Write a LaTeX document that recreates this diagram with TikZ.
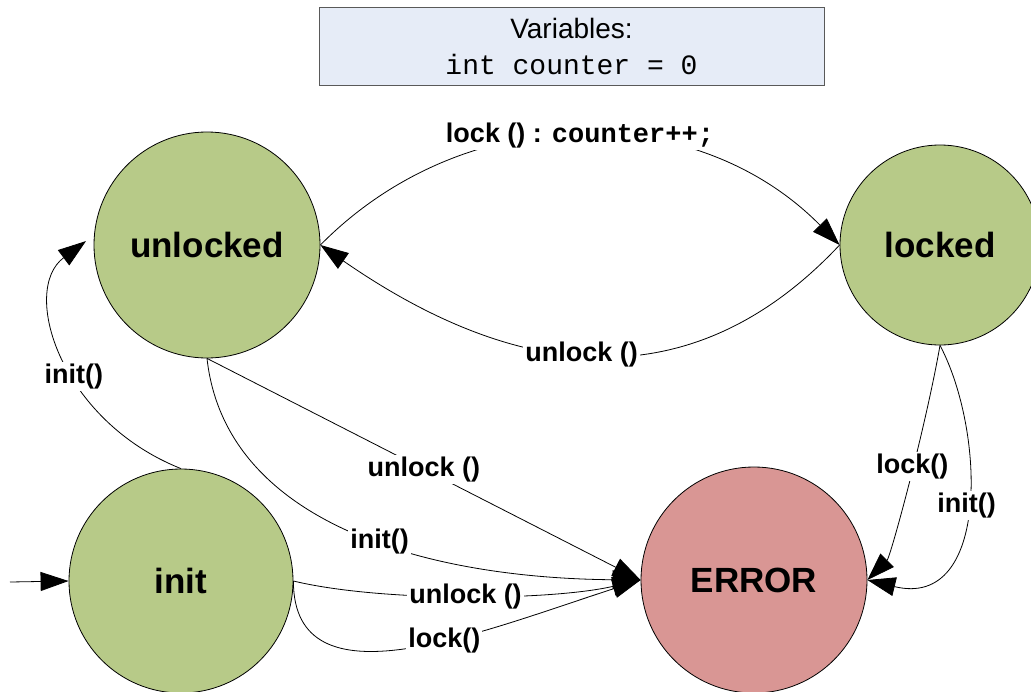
\documentclass[tikz,border=0pt]{standalone}
\usepackage{fontspec}
\setmainfont{Liberation Sans}
\setmonofont{Liberation Mono}
\usetikzlibrary{arrows.meta}
\definecolor{stategreen}{HTML}{B7CA88}
\definecolor{errorred}{HTML}{D99694}
\definecolor{varfill}{HTML}{E6ECF7}
\definecolor{varline}{HTML}{595959}
\begin{document}
\begin{tikzpicture}[x=1pt,y=-1pt,
  state/.style={circle, draw=black, line width=0.8pt, fill=stategreen, inner sep=0pt,
    font=\bfseries\fontsize{35}{40}\selectfont},
  trans/.style={draw=black, line width=0.8pt, -{Triangle[length=28pt,width=19pt]}},
  lbl/.style={fill=white, inner sep=2pt, font=\bfseries\fontsize{27}{30}\selectfont},
  varbox/.style={draw=varline, fill=varfill, line width=0.8pt, minimum width=505pt,
    minimum height=78pt, align=center, inner sep=0pt, font=\fontsize{28}{36}\selectfont},
]
\useasboundingbox (0,0) rectangle (1031,691);

% variables box
\node[varbox] (vars) at (571.5,46) {Variables:\\{\ttfamily int counter = 0}};

% states
\node[state, minimum size=226pt] (unlocked) at (207,245) {unlocked};
\node[state, minimum size=200pt] (locked) at (940,245) {locked};
\node[state, minimum size=224pt] (init) at (181,581) {init};
\node[state, fill=errorred, minimum size=226pt] (ERROR) at (754,580) {ERROR};

% entry arrow
\coordinate (entry) at (10,582);
\draw[trans] (entry) -- (init.west);

% transitions between unlocked and locked
\draw[trans] (unlocked.east) .. controls +(144,-146) and +(-144,-146) .. (locked.west)
  node[lbl,pos=0.5] {lock () : \texttt{counter++;}};
\draw[trans] (locked.west) .. controls +(-138,147) and +(212,147) .. (unlocked.east)
  node[lbl,pos=0.55] {unlock ()};

% transitions into ERROR
\draw[trans] (unlocked.south) -- (ERROR.west) node[lbl,pos=0.5] {unlock ()};
\draw[trans] (unlocked.south) .. controls +(18,162) and +(-221,-2) .. (ERROR.west)
  node[lbl,pos=0.565] {init()};
\draw[trans] (init.east) .. controls +(87,21) and +(-91,21) .. (ERROR.west)
  node[lbl,pos=0.5] {unlock ()};
\draw[trans] (init.east) .. controls +(0,128) and +(-161,52) .. (ERROR.west)
  node[lbl,pos=0.59] {lock()};
\draw[trans] (locked.south) .. controls +(-15,85) and +(23,-23) .. (ERROR.east)
  node[lbl,pos=0.43] {lock()};
\draw[trans] (locked.south) .. controls +(45,85) and +(123,30) .. (ERROR.east)
  node[lbl,pos=0.5] {init()};

% init to unlocked
\draw[trans, shorten >=10pt] (init.north) .. controls +(-121,-48) and +(-74,55) .. (unlocked.175)
  node[lbl,pos=0.42] {init()};
\end{tikzpicture}
\end{document}
